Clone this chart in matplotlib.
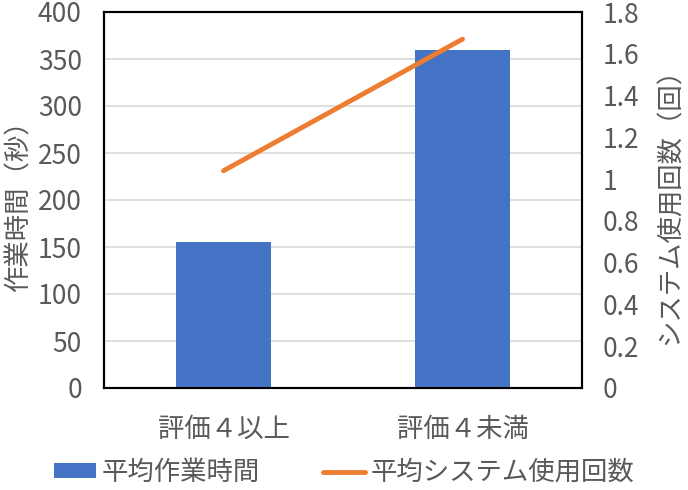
import matplotlib
matplotlib.use("Agg")
import matplotlib.pyplot as plt
import numpy as np

plt.rcParams['font.family'] = ['Noto Sans CJK JP', 'DejaVu Sans']

CATEGORIES = ['評価４以上', '評価４未満']
WORK_TIME = [155, 360]          # 平均作業時間 (秒)
SYSTEM_USE = [1.04, 1.67]       # 平均システム使用回数 (回)
LEFT_TICKS = [0, 50, 100, 150, 200, 250, 300, 350, 400]
RIGHT_TICKS = [0, 0.2, 0.4, 0.6, 0.8, 1, 1.2, 1.4, 1.6, 1.8]

TEXT = '#595959'
BLUE = '#4472C4'
ORANGE = '#ED7D31'
FS = 19

fig = plt.figure(figsize=(6.88, 4.9), dpi=100)
ax = fig.add_axes([104 / 688, 1 - 388 / 490, 478 / 688, 376 / 490])
ax2 = ax.twinx()

x = np.arange(len(CATEGORIES))
bars = ax.bar(x, WORK_TIME, width=0.4, color=BLUE, zorder=3, label='平均作業時間')
line, = ax2.plot(x, SYSTEM_USE, color=ORANGE, linewidth=3.5, solid_capstyle='round',
                 label='平均システム使用回数')

ax.set_xlim(-0.5, 1.5)
ax.set_ylim(0, 400)
ax2.set_ylim(0, 1.8)
ax.set_yticks(LEFT_TICKS)
ax.set_yticklabels([str(v) for v in LEFT_TICKS])
ax2.set_yticks(RIGHT_TICKS)
ax2.set_yticklabels(['%g' % v for v in RIGHT_TICKS])
ax.set_xticks(x)
ax.set_xticklabels(CATEGORIES)

ax.grid(axis='y', color='#D9D9D9', linewidth=1.2, zorder=0)
ax.set_axisbelow(True)

for a in (ax, ax2):
    a.tick_params(length=0, labelsize=FS, colors=TEXT)
    for s in a.spines.values():
        s.set_color('black')
        s.set_linewidth(1.5)
ax.tick_params(axis='x', pad=20)
ax.tick_params(axis='y', pad=16)
ax2.tick_params(axis='y', pad=15)

ax.set_ylabel('作業時間（秒）', fontsize=FS, color=TEXT, labelpad=4)
ax2.set_ylabel('システム使用回数（回）', fontsize=FS, color=TEXT, labelpad=12)

fig.legend([bars, line], ['平均作業時間', '平均システム使用回数'], loc='lower center',
           bbox_to_anchor=(0.5, -0.04), ncol=2, frameon=False, fontsize=FS,
           labelcolor=TEXT, handlelength=1.6, handleheight=0.45, columnspacing=2.4,
           handletextpad=0.2)

fig.savefig('out.png', dpi=100)
